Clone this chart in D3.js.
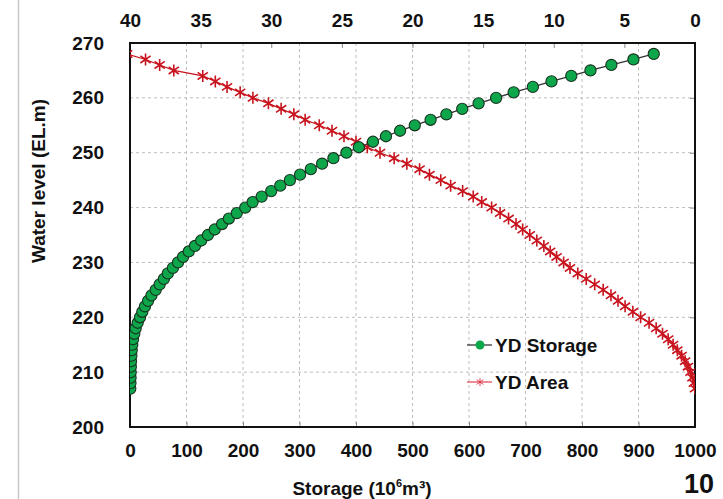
<!DOCTYPE html>
<html>
<head>
<meta charset="utf-8">
<script src="https://cdn.jsdelivr.net/npm/d3@7"></script>
<style>
  body { margin: 0; background: #fff; }
  text { font-family: "Liberation Sans", Arial, sans-serif; font-weight: bold; fill: #111; }
</style>
</head>
<body>
<script>
// water level (EL.m), one point per metre
const levels = [207, 208, 209, 210, 211, 212, 213, 214, 215, 216, 217, 218, 219, 220,
  221, 222, 223, 224, 225, 226, 227, 228, 229, 230, 231, 232, 233, 234, 235, 236, 237,
  238, 239, 240, 241, 242, 243, 244, 245, 246, 247, 248, 249, 250, 251, 252, 253, 254,
  255, 256, 257, 258, 259, 260, 261, 262, 263, 264, 265, 266, 267, 268];

// storage (10^6 m3)
const storage = [0.5, 0.8, 1.0, 1.2, 1.5, 1.8, 2.4, 3.0, 4.0, 5.3, 7.6, 10, 13.6, 17.7,
  21.8, 26.5, 32, 38, 45.5, 52.5, 60, 67, 76, 85, 94, 104, 115, 126, 138, 150, 163,
  175, 189, 204, 217, 233, 250, 266, 283, 301, 320, 340, 360, 383, 405, 430, 453, 478,
  504, 532, 560, 588, 617, 648, 679, 713, 746, 781, 815, 852, 891, 927];

// area (km2), top axis
const area = [0.0, 0.08, 0.18, 0.32, 0.5, 0.7, 0.95, 1.25, 1.55, 1.9, 2.3, 2.75, 3.25, 3.85,
  4.4, 4.95, 5.45, 5.95, 6.5, 7.1, 7.7, 8.3, 8.85, 9.3, 9.8, 10.25, 10.7, 11.2, 11.7, 12.2, 12.67,
  13.2, 13.8, 14.4, 15.1, 15.7, 16.45, 17.3, 18.0, 18.8, 19.5, 20.4, 21.3, 22.3, 23.2, 24.0, 24.85, 25.7,
  26.6, 27.6, 28.4, 29.3, 30.2, 31.3, 32.2, 33.13, 33.96, 34.85, 36.9, 37.9, 38.9, 40.2];

const storageTicks = [0, 100, 200, 300, 400, 500, 600, 700, 800, 900, 1000];
const areaTicks = [40, 35, 30, 25, 20, 15, 10, 5, 0];
const levelTicks = [200, 210, 220, 230, 240, 250, 260, 270];

const W = 723, H = 499;
const L = 130, R = 695, T = 43, B = 427;

const x = d3.scaleLinear().domain([0, 1000]).range([L, R]);
const xTop = d3.scaleLinear().domain([40, 0]).range([L, R]);
const y = d3.scaleLinear().domain([200, 270]).range([B, T]);

const svg = d3.select('body').append('svg')
  .attr('width', W).attr('height', H);

// faint page edge on the left
svg.append('line')
  .attr('x1', 18.5).attr('x2', 18.5).attr('y1', 0).attr('y2', H)
  .attr('stroke', '#c8c8c8').attr('stroke-width', 1.5);

svg.append('clipPath').attr('id', 'plot')
  .append('rect').attr('x', L).attr('y', T).attr('width', R - L).attr('height', B - T);

// grid
const grid = svg.append('g').attr('stroke', '#bdbdbd').attr('stroke-dasharray', '3,3').attr('stroke-width', 1);
grid.selectAll('.gx').data(storageTicks.slice(1, -1)).enter().append('line')
  .attr('x1', d => x(d)).attr('x2', d => x(d)).attr('y1', T).attr('y2', B);
grid.selectAll('.gy').data(levelTicks.slice(1, -1)).enter().append('line')
  .attr('x1', L).attr('x2', R).attr('y1', d => y(d)).attr('y2', d => y(d));

// axes (ticks inside)
const labelSize = 19;
const fmt = d3.format('d');
const bottomAxis = svg.append('g').attr('transform', 'translate(0,' + B + ')')
  .call(d3.axisBottom(x).tickValues(storageTicks).tickFormat(fmt).tickSize(-5).tickPadding(17));
const topAxis = svg.append('g').attr('transform', 'translate(0,' + T + ')')
  .call(d3.axisTop(xTop).tickValues(areaTicks).tickFormat(fmt).tickSize(-5).tickPadding(16));
const leftAxis = svg.append('g').attr('transform', 'translate(' + L + ',0)')
  .call(d3.axisLeft(y).tickValues(levelTicks).tickFormat(fmt).tickSize(0).tickPadding(26));
const rightAxis = svg.append('g').attr('transform', 'translate(' + R + ',0)')
  .call(d3.axisRight(y).tickValues(levelTicks).tickSize(-5).tickFormat(''));

[bottomAxis, topAxis, leftAxis, rightAxis].forEach(a => {
  a.select('.domain').remove();
  a.selectAll('line').attr('stroke', '#888');
  a.selectAll('text').attr('font-size', labelSize)
    .attr('font-family', '"Liberation Sans", Arial, sans-serif').attr('font-weight', 'bold').attr('fill', '#111');
});

// frame
svg.append('rect').attr('x', L).attr('y', T).attr('width', R - L).attr('height', B - T)
  .attr('fill', 'none').attr('stroke', '#111').attr('stroke-width', 2);

const plot = svg.append('g').attr('clip-path', 'url(#plot)');

// area series (red asterisks)
const areaPts = levels.map((lv, i) => [xTop(area[i]), y(lv)]);
plot.append('path').datum(areaPts)
  .attr('d', d3.line())
  .attr('fill', 'none').attr('stroke', '#c8141e').attr('stroke-width', 1.2);

function star(r) {
  const k = r * 0.85;
  return 'M0,' + (-r) + 'L0,' + r + 'M' + (-k) + ',' + (-k * 0.7) + 'L' + k + ',' + (k * 0.7) +
    'M' + (-k) + ',' + (k * 0.7) + 'L' + k + ',' + (-k * 0.7);
}
plot.selectAll('.am').data(areaPts).enter().append('path')
  .attr('transform', d => 'translate(' + d[0] + ',' + d[1] + ')')
  .attr('d', star(6))
  .attr('fill', 'none').attr('stroke', '#c8141e').attr('stroke-width', 1.6);

// storage series (green circles)
const storPts = levels.map((lv, i) => [x(storage[i]), y(lv)]);
plot.append('path').datum(storPts)
  .attr('d', d3.line())
  .attr('fill', 'none').attr('stroke', '#333').attr('stroke-width', 1.3);
plot.selectAll('.sm').data(storPts).enter().append('circle')
  .attr('cx', d => d[0]).attr('cy', d => d[1]).attr('r', 5.6)
  .attr('fill', '#0ea64a').attr('stroke', '#173320').attr('stroke-width', 1.1);

// legend
const lg = svg.append('g');
lg.append('line').attr('x1', 467).attr('x2', 492).attr('y1', 345).attr('y2', 345)
  .attr('stroke', '#333').attr('stroke-width', 1.3);
lg.append('circle').attr('cx', 480).attr('cy', 345).attr('r', 4.5).attr('fill', '#0ea64a');
lg.append('text').attr('x', 495).attr('y', 352).attr('font-size', labelSize).text('YD Storage');
lg.append('line').attr('x1', 467).attr('x2', 492).attr('y1', 382).attr('y2', 382)
  .attr('stroke', '#e04050').attr('stroke-width', 1.2);
lg.append('path').attr('transform', 'translate(480,382)').attr('d', star(4))
  .attr('fill', 'none').attr('stroke', '#e04050').attr('stroke-width', 1);
lg.append('text').attr('x', 495).attr('y', 389).attr('font-size', labelSize).text('YD Area');

// axis titles
const xt = svg.append('text').attr('x', 362).attr('y', 495).attr('text-anchor', 'middle')
  .attr('font-size', 19);
xt.append('tspan').text('Storage (10');
xt.append('tspan').attr('font-size', 11).attr('dy', -8).text('6');
xt.append('tspan').attr('dy', 8).text('m³)');

svg.append('text').attr('transform', 'translate(45,181) rotate(-90)')
  .attr('text-anchor', 'middle').attr('font-size', 19).text('Water level (EL.m)');

svg.append('text').attr('x', 699).attr('y', 493).attr('text-anchor', 'middle')
  .attr('font-size', 27).attr('fill', '#000').text('10');
</script>
</body>
</html>
